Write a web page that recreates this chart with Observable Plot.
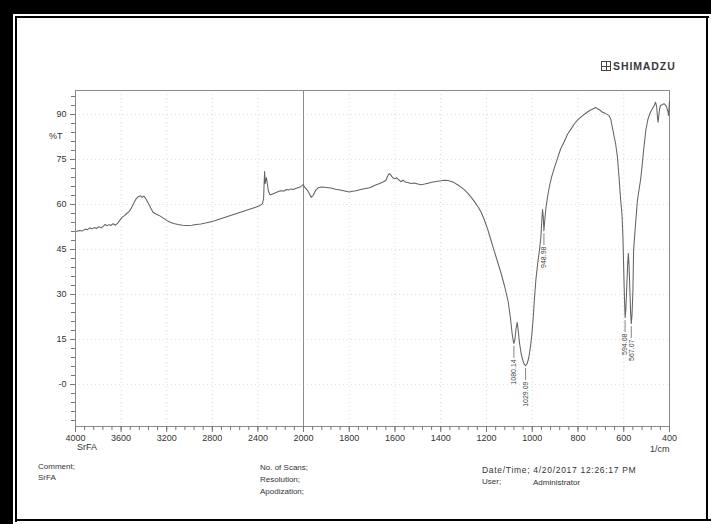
<!DOCTYPE html>
<html><head><meta charset="utf-8">
<script src="https://cdn.jsdelivr.net/npm/d3@7"></script>
<script src="https://cdn.jsdelivr.net/npm/@observablehq/plot@0.6"></script>
<style>
body{margin:0;background:#fff;}
#page{position:relative;width:711px;height:524px;overflow:hidden;background:#fff;font-family:"Liberation Sans",Arial,sans-serif;}
#page svg{position:absolute;left:0;top:0;}
.t{position:absolute;font-size:8px;color:#333;white-space:nowrap;line-height:1;}
.b{position:absolute;background:#000;z-index:5;}
</style></head><body><div id="page"></div>
<script>
// ---- data ----
const wavenumbers = [3990,3965,3940,3915,3895,3875,3855,3835,3815,3795,3775,3755,3740,3725,3705,3690,3670,3650,3630,3610,3590,3570,3550,3530,3510,3490,3470,3450,3430,3415,3400,3385,3370,3355,3340,3320,3300,3280,3260,3240,3220,3200,3170,3140,3100,3060,3020,2980,2940,2900,2860,2820,2780,2740,2700,2660,2620,2580,2540,2500,2460,2420,2380,2360,2350,2345,2341,2336,2331,2325,2318,2308,2295,2285,2260,2230,2200,2170,2150,2130,2110,2090,2070,2050,2030,2015,2003,1995,1984,1974,1966,1958,1947,1935,1920,1900,1880,1860,1840,1820,1800,1785,1770,1750,1730,1710,1690,1670,1655,1640,1632,1625,1618,1610,1600,1592,1583,1575,1565,1555,1544,1530,1515,1500,1485,1470,1455,1440,1420,1400,1385,1368,1355,1342,1325,1310,1295,1281,1265,1250,1235,1224,1210,1195,1180,1165,1150,1136,1120,1105,1095,1088,1083,1080,1076,1071,1066,1062,1056,1048,1040,1034,1029,1022,1015,1008,1002,996,991,984,976,968,962,958,955,952,949,945,940,933,925,915,903,890,876,860,845,830,815,800,785,765,745,730,723,715,705,694,680,665,657,650,643,636,628,621,614,608,604,600,597,594,591,587,583,580,577,573,570,567,564,560,557,548,540,532,526,519,512,503,494,485,475,467,461,456,452,450,447,443,439,432,424,418,412,407,404,402,400];
const transmittance = [51.0,51.3,51.2,51.8,51.6,52.2,51.9,52.3,52.0,52.6,52.2,52.8,53.4,52.9,53.3,53.0,53.6,53.1,53.8,54.8,55.8,56.3,57.0,57.6,58.8,60.3,61.8,62.6,62.9,62.4,62.8,62.0,61.0,60.0,58.8,57.4,56.9,56.6,56.2,55.7,55.2,54.7,54.1,53.7,53.3,53.1,53.0,53.1,53.3,53.5,53.8,54.2,54.6,55.1,55.6,56.1,56.6,57.1,57.6,58.1,58.6,59.1,59.7,60.3,62.0,67.5,71.0,67.0,68.0,69.0,67.0,64.5,63.3,63.3,63.7,64.2,64.6,64.5,65.0,64.8,65.2,65.0,65.3,65.6,65.8,66.2,66.6,65.8,64.9,63.5,62.4,63.0,64.7,65.6,65.8,65.7,65.5,65.1,64.8,64.5,64.2,64.4,64.6,65.0,65.3,65.6,66.3,66.9,67.4,68.0,69.5,70.3,69.8,68.9,68.6,68.9,68.2,67.6,68.1,67.5,67.3,67.0,67.2,66.8,66.6,66.8,67.1,67.4,67.7,67.9,68.1,68.0,67.7,67.3,66.5,65.7,64.8,63.7,62.2,60.7,59.0,57.5,55.0,51.8,48.0,44.2,40.5,37.0,32.5,27.5,22.0,17.0,14.5,13.7,15.0,18.5,20.7,18.5,14.0,10.0,7.8,6.6,6.3,7.0,9.0,12.5,16.5,22.0,28.0,35.0,40.5,45.0,49.5,55.0,58.3,56.0,51.3,55.0,59.0,62.5,66.0,69.3,72.3,75.3,78.5,81.0,83.5,85.2,87.0,88.3,89.3,90.5,91.5,92.0,92.4,91.9,91.5,90.8,90.3,89.7,88.5,85.8,83.0,80.5,76.0,69.5,62.0,57.0,50.0,38.0,29.0,22.3,25.0,32.0,40.0,43.7,40.0,31.0,24.0,20.3,23.0,31.0,44.7,54.0,61.5,65.5,68.5,73.5,79.0,85.0,88.5,90.5,91.9,93.0,94.1,92.5,88.5,87.4,89.5,92.0,93.0,93.3,93.6,93.2,92.4,91.0,89.7,92.0,94.4];
const peakWavenumbers = [1080.14, 1029.09, 948.98, 594.08, 567.07];
const peakLabels = ["1080.14", "1029.09", "948.98", "594.08", "567.07"];
const peakTransmittance = [13.7, 6.3, 51.3, 22.3, 20.3];
const xTickLabels = [4000,3600,3200,2800,2400,2000,1800,1600,1400,1200,1000,800,600,400];
const yTickLabels = [0,15,30,45,60,75,90];

const spectrum = wavenumbers.map((w, i) => ({wn: w, t: transmittance[i]}));
const peaks = peakWavenumbers.map((w, i) => ({wn: w, t: peakTransmittance[i], label: peakLabels[i]}));
const xMinor = d3.range(4000, 2000, -80).concat(d3.range(2000, 399, -40));
const yMinor = d3.range(-12, 97, 3);

const plot = Plot.plot({
  width: 711, height: 524,
  marginLeft: 75, marginRight: 42, marginTop: 90, marginBottom: 98,
  style: {background: "transparent", fontFamily: "Liberation Sans, Arial, sans-serif", fontSize: "9px", color: "#333"},
  x: {type: "linear", domain: [4000, 2000, 400], range: [75, 303, 669]},
  y: {domain: [-14, 98]},
  marks: [
    Plot.ruleX(xTickLabels.filter(d => d !== 2000 && d !== 4000 && d !== 400), {stroke: "#aaa", strokeOpacity: 0.45, strokeDasharray: "1,3"}),
    Plot.ruleY(yTickLabels, {stroke: "#aaa", strokeOpacity: 0.35, strokeDasharray: "1,3"}),
    Plot.ruleX([2000], {stroke: "#8c8c8c", strokeWidth: 1}),
    Plot.frame({stroke: "#8a8a8a"}),
    Plot.axisX(xMinor, {tickSize: 4, tickFormat: () => "", stroke: "#777", label: null}),
    Plot.axisX(xTickLabels, {tickSize: 6, tickPadding: 2, tickFormat: d => String(d), stroke: "#777", fill: "#333", label: null}),
    Plot.axisY(yMinor, {tickSize: 4, tickFormat: () => "", stroke: "#777", label: null}),
    Plot.axisY(yTickLabels, {tickSize: 5, tickPadding: 4, tickFormat: d => d === 0 ? "-0" : String(d), stroke: "#777", fill: "#333", label: null}),
    Plot.line(spectrum, {x: "wn", y: "t", stroke: "#636363", strokeWidth: 1.05}),
    Plot.ruleX(peaks, {x: "wn", y1: d => d.t - 1, y2: d => d.t - 5, stroke: "#666", strokeWidth: 0.8}),
    Plot.text(peaks, {x: "wn", y: d => d.t - 5.3, text: "label", rotate: -90, textAnchor: "end", fontSize: 7, fill: "#444"})
  ]
});
const page = document.getElementById("page");
page.appendChild(plot);

function addText(txt, x, y, size, extra) {
  const d = document.createElement("div");
  d.className = "t";
  d.textContent = txt;
  d.style.left = x + "px"; d.style.top = y + "px";
  if (size) d.style.fontSize = size + "px";
  if (extra) Object.assign(d.style, extra);
  page.appendChild(d);
}
function addBox(x, y, w, h) {
  const d = document.createElement("div");
  d.className = "b";
  Object.assign(d.style, {left: x + "px", top: y + "px", width: w + "px", height: h + "px"});
  page.appendChild(d);
}
// scanned page border
addBox(0, 0, 711, 14);
addBox(0, 0, 13, 524);
addBox(15, 16, 694, 2);
addBox(15, 16, 2, 506);
addBox(15, 519, 696, 2);
addBox(706, 16, 2, 505);

// logo
const logo = document.createElement("div");
Object.assign(logo.style, {position: "absolute", left: "601px", top: "61px", width: "8px", height: "8px", border: "1px solid #444",
  background: "linear-gradient(#444,#444) center/1px 100% no-repeat, linear-gradient(#444,#444) center/100% 1px no-repeat"});
page.appendChild(logo);
addText("SHIMADZU", 613, 61, 10.5, {fontWeight: "bold", color: "#3a3a3a", letterSpacing: "0.9px"});

// axis extras
addText("%T", 49, 132, 9, {color: "#333"});
addText("SrFA", 77, 443, 9);
addText("1/cm", 650, 445, 9);

// footer
addText("Comment;", 38, 463, 8);
addText("SrFA", 38, 474, 8);
addText("No. of Scans;", 260, 464, 8);
addText("Resolution;", 260, 476, 8);
addText("Apodization;", 260, 488, 8);
addText("Date/Time; 4/20/2017 12:26:17 PM", 482, 466, 8.5, {letterSpacing: "0.7px"});
addText("User;", 482, 478, 8);
addText("Administrator", 533, 479, 8);
</script></body></html>
